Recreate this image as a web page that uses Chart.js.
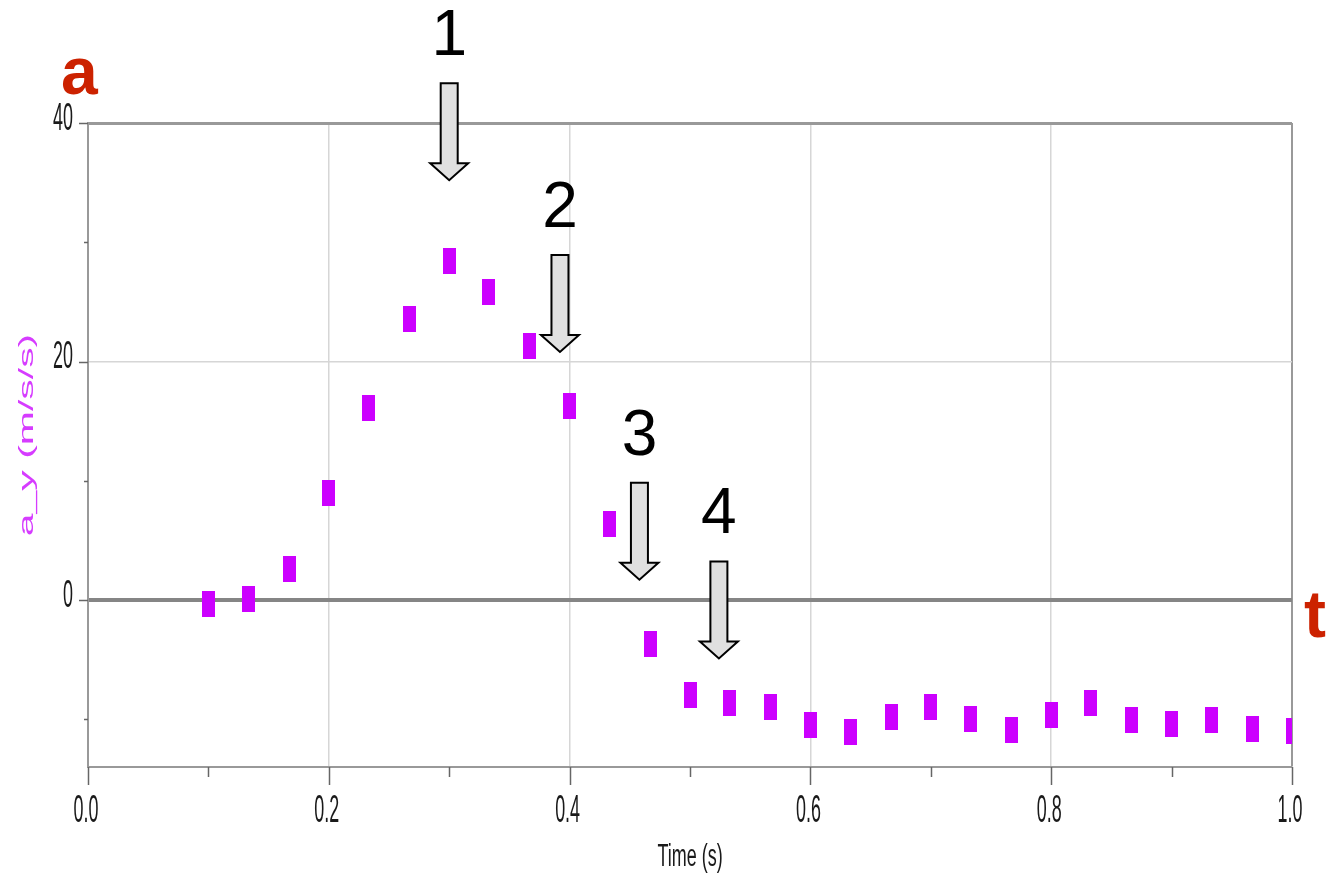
<!DOCTYPE html>
<html>
<head>
<meta charset="utf-8">
<script src="https://cdn.jsdelivr.net/npm/chart.js@4/dist/chart.umd.min.js"></script>
<style>
    html, body { margin: 0; padding: 0; background: #fff; }
</style>
</head>
<body>
<canvas id="grafico" width="1332" height="877"></canvas>
<script>
// DATOS
const tiempos = [0.100, 0.133, 0.167, 0.200, 0.233, 0.267, 0.300, 0.333, 0.367, 0.400,
    0.433, 0.467, 0.500, 0.533, 0.567, 0.600, 0.633, 0.667, 0.700, 0.733,
    0.767, 0.800, 0.833, 0.867, 0.900, 0.933, 0.967, 1.000]
const aceleraciones = [-0.3, 0.1, 2.6, 9.0, 16.1, 23.6, 28.4, 25.8, 21.3, 16.3,
    6.4, -3.7, -8.0, -8.6, -9.0, -10.5, -11.1, -9.8, -9.0, -10.0,
    -10.9, -9.6, -8.6, -10.1, -10.4, -10.1, -10.8, -11.0]

const xMarcas = [0.0, 0.2, 0.4, 0.6, 0.8, 1.0]
const xEtiquetas = ['0.0', '0.2', '0.4', '0.6', '0.8', '1.0']
const xMenores = [0.1, 0.3, 0.5, 0.7, 0.9]
const yMarcas = [0, 20, 40]
const yEtiquetas = ['0', '20', '40']
const yMenores = [-10, 10, 30]

// flechas numeradas: tiempo y valor de la punta
const flechasNum = ['1', '2', '3', '4']
const flechasT = [0.300, 0.392, 0.458, 0.524]
const flechasPunta = [35.2, 20.8, 1.7, -4.9]

// FUNCIONES
function crearMarcador() {
    const c = document.createElement('canvas')
    c.width = 13
    c.height = 26
    const g = c.getContext('2d')
    g.fillStyle = '#cc00ff'
    g.fillRect(0, 0, 13, 26)
    return c
}

function cerca(a, b) {
    return Math.abs(a - b) < 1e-6
}

function dibujarFlecha(ctx, x, yPunta) {
    const largo = 97, anchoCuerpo = 17, anchoCabeza = 38, altoCabeza = 17
    const yTop = yPunta - largo
    const yCabeza = yPunta - altoCabeza
    ctx.beginPath()
    ctx.moveTo(x - anchoCuerpo / 2, yTop)
    ctx.lineTo(x + anchoCuerpo / 2, yTop)
    ctx.lineTo(x + anchoCuerpo / 2, yCabeza)
    ctx.lineTo(x + anchoCabeza / 2, yCabeza)
    ctx.lineTo(x, yPunta)
    ctx.lineTo(x - anchoCabeza / 2, yCabeza)
    ctx.lineTo(x - anchoCuerpo / 2, yCabeza)
    ctx.closePath()
    ctx.fillStyle = '#e0e0e0'
    ctx.fill()
    ctx.strokeStyle = '#000'
    ctx.lineWidth = 2
    ctx.stroke()
    return yTop
}

// texto estirado (la captura original está deformada verticalmente)
function textoEscalado(ctx, texto, x, y, escalaX, alinear) {
    ctx.save()
    ctx.translate(x, y)
    ctx.scale(escalaX, 1)
    ctx.textAlign = alinear
    ctx.fillText(texto, 0, 0)
    ctx.restore()
}

const pluginDecoracion = {
    id: 'decoracion',
    afterDraw(chart) {
        const ctx = chart.ctx
        const ca = chart.chartArea
        const xs = chart.scales.x
        const ys = chart.scales.y
        ctx.save()

        // marcas de los ejes
        ctx.strokeStyle = '#666'
        ctx.lineWidth = 1.5
        xMarcas.forEach(v => {
            const px = Math.round(xs.getPixelForValue(v)) + 0.5
            ctx.beginPath(); ctx.moveTo(px, ca.bottom); ctx.lineTo(px, ca.bottom + 18); ctx.stroke()
        })
        xMenores.forEach(v => {
            const px = Math.round(xs.getPixelForValue(v)) + 0.5
            ctx.beginPath(); ctx.moveTo(px, ca.bottom); ctx.lineTo(px, ca.bottom + 10); ctx.stroke()
        })
        yMarcas.forEach(v => {
            const py = Math.round(ys.getPixelForValue(v)) + 0.5
            ctx.beginPath(); ctx.moveTo(ca.left - 9, py); ctx.lineTo(ca.left, py); ctx.stroke()
        })
        yMenores.forEach(v => {
            const py = Math.round(ys.getPixelForValue(v)) + 0.5
            ctx.beginPath(); ctx.moveTo(ca.left - 4, py); ctx.lineTo(ca.left, py); ctx.stroke()
        })

        // etiquetas de los ejes
        ctx.fillStyle = '#1a1a1a'
        ctx.font = '39px "Liberation Sans"'
        ctx.textBaseline = 'middle'
        xMarcas.forEach((v, i) => {
            textoEscalado(ctx, xEtiquetas[i], xs.getPixelForValue(v) - 2, ca.bottom + 44, 0.46, 'center')
        })
        yMarcas.forEach((v, i) => {
            textoEscalado(ctx, yEtiquetas[i], ca.left - 15, ys.getPixelForValue(v) - 4, 0.46, 'right')
        })

        // título eje x
        ctx.font = '31px "Liberation Sans"'
        textoEscalado(ctx, 'Time (s)', (ca.left + ca.right) / 2, ca.bottom + 90, 0.58, 'center')

        // título eje y
        ctx.save()
        ctx.translate(27, (ca.top + ca.bottom) / 2 - 10)
        ctx.rotate(-Math.PI / 2)
        ctx.scale(1.95, 1)
        ctx.fillStyle = '#d63cff'
        ctx.font = '21px "Liberation Sans"'
        ctx.textAlign = 'center'
        ctx.textBaseline = 'middle'
        ctx.fillText('a_y (m/s/s)', 0, 0)
        ctx.restore()

        // flechas y números
        ctx.font = '64px "Liberation Sans"'
        ctx.textAlign = 'center'
        ctx.textBaseline = 'alphabetic'
        flechasT.forEach((t, i) => {
            const px = xs.getPixelForValue(t)
            const yTop = dibujarFlecha(ctx, px, ys.getPixelForValue(flechasPunta[i]))
            ctx.fillStyle = '#000'
            ctx.fillText(flechasNum[i], px, yTop - 28)
        })

        // letras rojas a y t
        ctx.fillStyle = '#cc2200'
        ctx.font = 'bold 66px "Liberation Sans"'
        ctx.textAlign = 'left'
        ctx.fillText('a', ca.left - 27, ca.top - 29)
        ctx.fillText('t', ca.right + 12, ys.getPixelForValue(0) + 37)

        ctx.restore()
    }
}

function graficar(valoresX, valoresY, idElementoDom) {
    const data = valoresX.map((k, i) => ({ x: k, y: valoresY[i] }))
    const ctx = document.getElementById(idElementoDom).getContext('2d')
    return new Chart(ctx, {
        type: 'scatter',
        data: {
            datasets: [
                {
                    label: 'a_y',
                    data: data,
                    pointStyle: crearMarcador(),
                    clip: 0,
                },
            ],
        },
        options: {
            responsive: false,
            animation: false,
            devicePixelRatio: 1,
            layout: { padding: { left: 88, right: 40, top: 123, bottom: 110 } },
            scales: {
                x: {
                    type: 'linear',
                    min: 0,
                    max: 1,
                    ticks: { display: false, stepSize: 0.2 },
                    grid: {
                        drawTicks: false,
                        color: (c) => cerca(c.tick.value, 1) ? '#999' : '#d6d6d6',
                        lineWidth: (c) => cerca(c.tick.value, 1) ? 2 : 1.5,
                    },
                    border: { display: true, color: '#999', width: 2 },
                },
                y: {
                    min: -14,
                    max: 40,
                    ticks: { display: false, stepSize: 20 },
                    grid: {
                        drawTicks: false,
                        color: (c) => {
                            const v = c.tick.value
                            if (cerca(v, 0)) return '#858585'
                            if (cerca(v, 40)) return '#999'
                            if (cerca(v, 20)) return '#d6d6d6'
                            return 'rgba(0,0,0,0)'
                        },
                        lineWidth: (c) => {
                            const v = c.tick.value
                            if (cerca(v, 0)) return 4
                            if (cerca(v, 40)) return 3
                            return 1.5
                        },
                    },
                    border: { display: true, color: '#999', width: 2 },
                },
            },
            plugins: {
                legend: { display: false },
                tooltip: { enabled: false },
            },
        },
        plugins: [pluginDecoracion],
    })
}

// EJECUCIÓN
graficar(tiempos, aceleraciones, 'grafico')
</script>
</body>
</html>
